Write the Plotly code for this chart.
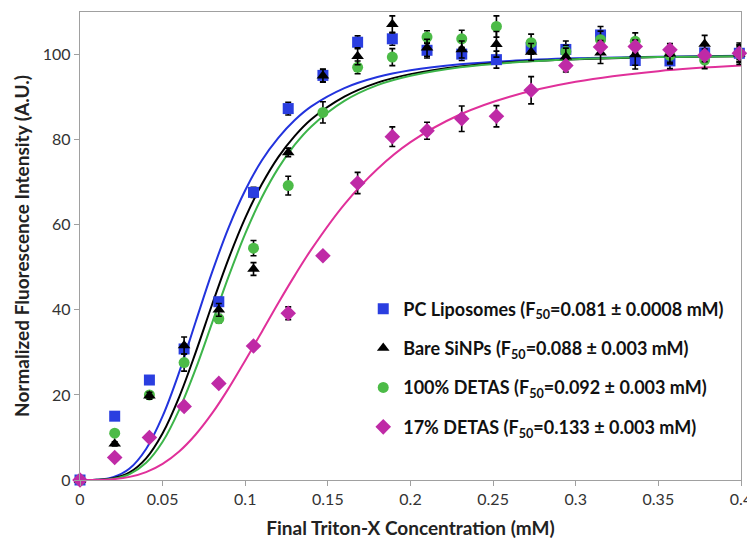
import plotly.graph_objects as go

# ---- data ----
conc = [0.0, 0.021, 0.042, 0.063, 0.084, 0.105, 0.126, 0.147, 0.168, 0.189,
        0.210, 0.231, 0.252, 0.273, 0.294, 0.315, 0.336, 0.357, 0.378, 0.399]

pc_lipo = [0, 15.0, 23.5, 30.8, 41.9, 67.6, 87.3, 95.1, 102.9, 103.7,
           101.0, 100.1, 98.8, 101.6, 101.2, 104.6, 98.6, 98.5, 100.4, 100.3]
pc_lipo_err = [0, 0.5, 0.5, 1, 1, 1.2, 1.5, 1.5, 1.5, 1.5,
               1.8, 1.5, 2, 1.5, 2, 2, 2, 1.8, 2, 2]

bare = [0, 8.5, 19.8, 31.6, 40.0, 49.6, 77.0, 95.0, 99.6, 107.1,
        101.6, 101.2, 102.4, 100.6, 99.5, 100.4, 100.0, 100.2, 102.5, 100.2]
bare_err = [0, 0.5, 0.8, 2, 1.5, 1.5, 1, 1.5, 2, 2,
            2, 2, 3, 2, 2, 2.5, 2.5, 2, 2, 2.5]

detas100 = [0, 11.0, 20.0, 27.6, 37.9, 54.5, 69.2, 86.4, 97.0, 99.4,
            104.1, 103.7, 106.6, 102.8, 100.7, 103.5, 103.1, 99.8, 98.7, 100.2]
detas100_err = [0, 0.5, 0.5, 2, 1, 1.8, 2.2, 2.5, 1.5, 2,
                1.5, 2, 2.5, 2, 1.5, 2, 2, 2, 2, 2]

detas17 = [0, 5.3, 10.0, 17.3, 22.7, 31.5, 39.2, 52.7, 69.8, 80.7,
           82.1, 84.9, 85.5, 91.6, 97.4, 101.8, 101.9, 101.1, 99.8, 100.3]
detas17_err = [0, 0.5, 0.5, 0.5, 0.5, 0.5, 1.5, 0.8, 2.5, 2.3,
               2, 3, 2.5, 3.2, 1.5, 1.5, 1.5, 1.5, 1.5, 1.5]

# fitted curves
fit_x = [0, 0.01, 0.02, 0.03, 0.04, 0.05, 0.06, 0.07, 0.08, 0.09, 0.10, 0.11,
         0.12, 0.13, 0.14, 0.16, 0.18, 0.20, 0.23, 0.26, 0.30, 0.35, 0.40]
fit_pc = [0, 0.05, 0.65, 2.7, 7.3, 15.0, 25.3, 37.2, 48.9, 59.4, 68.1, 75.1,
          80.4, 84.6, 87.8, 92.1, 94.7, 96.3, 97.7, 98.5, 99.1, 99.5, 99.7]
fit_bare = [0, 0.03, 0.41, 1.8, 5.1, 11.0, 19.5, 30.0, 41.3, 52.1, 61.6, 69.5,
            75.9, 80.9, 84.8, 90.1, 93.4, 95.4, 97.2, 98.2, 98.9, 99.4, 99.6]
fit_100 = [0, 0.02, 0.30, 1.4, 4.05, 9.0, 16.5, 26.1, 37.0, 47.9, 57.9, 66.4,
           73.3, 78.8, 83.1, 89.1, 92.8, 95.0, 97.0, 98.1, 98.9, 99.4, 99.6]
fit_17 = [0, 0.02, 0.19, 0.73, 1.86, 3.8, 6.7, 10.7, 15.7, 21.6, 28.1, 34.8,
          41.6, 48.1, 54.2, 64.8, 73.1, 79.4, 85.9, 90.1, 93.6, 96.1, 97.4]

names = ["PC Liposomes (F<sub>50</sub>=0.081 ± 0.0008 mM)",
         "Bare SiNPs (F<sub>50</sub>=0.088 ± 0.003 mM)",
         "100% DETAS (F<sub>50</sub>=0.092 ± 0.003 mM)",
         "17% DETAS (F<sub>50</sub>=0.133 ± 0.003 mM)"]

x_ticks = [0, 0.05, 0.1, 0.15, 0.2, 0.25, 0.3, 0.35, 0.4]
y_ticks = [0, 20, 40, 60, 80, 100]

# ---- figure ----
FONT = "Lato"
fig = go.Figure()

line_colors = ["#2233dd", "#000000", "#3db54a", "#e0309a"]
for fy, c in zip([fit_pc, fit_bare, fit_100, fit_17], line_colors):
    fig.add_trace(go.Scatter(x=fit_x, y=fy, mode="lines", line=dict(color=c, width=2, shape="spline"),
                             showlegend=False, hoverinfo="skip", cliponaxis=False))

series = [(pc_lipo, pc_lipo_err, "square", "#2a3ee0", 11),
          (detas100, detas100_err, "circle", "#4cbb47", 11),
          (bare, bare_err, "triangle-up", "#000000", 11),
          (detas17, detas17_err, "diamond", "#bf2aa6", 12)]
name_idx = [0, 2, 1, 3]
for (vals, err, sym, col, sz), ni in zip(series, name_idx):
    fig.add_trace(go.Scatter(
        x=conc, y=vals, mode="markers", name=names[ni],
        marker=dict(symbol=sym, color=col, size=sz),
        error_y=dict(type="data", array=err, color="#000000", thickness=1.6, width=3),
        legendgroup=str(ni), legendrank=ni + 1, cliponaxis=False))

axis_common = dict(showgrid=False, zeroline=False, showline=True, linecolor="#a0a0a0",
                   linewidth=1.3, mirror=True, ticks="outside", tickcolor="#a0a0a0",
                   ticklen=5, automargin=False,
                   tickfont=dict(family=FONT, size=16, color="#333333"))

# the page body adds an 8px offset; size/margins compensate so the plot area
# sits at the reference's pixel position (x 80..741, y 12..480)
fig.update_layout(
    width=747, height=534,
    margin=dict(l=72, r=14, t=4, b=62),
    plot_bgcolor="white", paper_bgcolor="white",
    xaxis=dict(range=[0, 0.4], tickvals=x_ticks, ticktext=[str(v) for v in x_ticks],
               title=dict(text="<b>Final Triton-X Concentration (mM)</b>",
                          font=dict(family=FONT, size=19, color="#222222"), standoff=14),
               **axis_common),
    yaxis=dict(range=[0, 110], tickvals=y_ticks,
               title=dict(text="<b>Normalized Fluorescence Intensity (A.U.)</b>",
                          font=dict(family=FONT, size=19, color="#222222"), standoff=8),
               **axis_common),
    legend=dict(x=0.4285, y=0.405, xanchor="left", yanchor="top",
                font=dict(family=FONT, size=18, color="#111111", weight="bold"),
                bgcolor="rgba(255,255,255,0)", tracegroupgap=13, itemwidth=30,
                traceorder="grouped"),
)

fig.write_html("out.html")
